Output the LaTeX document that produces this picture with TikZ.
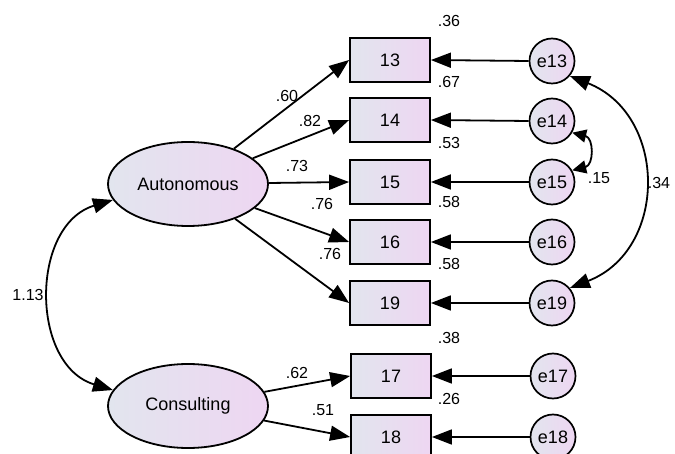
\documentclass[tikz,border=0pt]{standalone}
\usepackage{fontspec}
\setmainfont{Liberation Sans}
\usetikzlibrary{arrows.meta,shapes.geometric}
\definecolor{gl}{RGB}{226,229,238}
\definecolor{gr}{RGB}{238,214,242}
\tikzset{
  grad/.style={left color=gl, right color=gr},
  obs/.style={draw, line width=1.8pt, grad, minimum width=80pt, minimum height=44pt, inner sep=0pt, font=\fontsize{18}{20}\selectfont},
  err/.style={circle, draw, line width=1.7pt, grad, minimum size=45pt, inner sep=0pt, font=\fontsize{18}{20}\selectfont},
  lat/.style={ellipse, draw, line width=1.8pt, grad, minimum width=160pt, minimum height=84pt, inner sep=0pt, font=\fontsize{18}{20}\selectfont},
  lbl/.style={font=\fontsize{16}{18}\selectfont, inner sep=0pt},
  arr/.style={line width=1.8pt, -{Triangle[length=20pt,width=15pt]}},
  dbl/.style={line width=1.8pt, {Triangle[length=20pt,width=15pt]}-{Triangle[length=20pt,width=15pt]}},
  dbls/.style={line width=1.8pt, {Triangle[length=14pt,width=13pt]}-{Triangle[length=14pt,width=13pt]}},
}
\begin{document}
\begin{tikzpicture}[x=1pt,y=-1pt]
\useasboundingbox (0,0) rectangle (675,454);
% latent variables
\node[lat] (auto) at (188,184) {Autonomous};
\node[lat] (cons) at (188,406) {Consulting};
% observed
\node[obs] (b13) at (390,60) {13};
\node[obs] (b14) at (390,120) {14};
\node[obs] (b15) at (390,182) {15};
\node[obs] (b16) at (390,242) {16};
\node[obs] (b19) at (390,303) {19};
\node[obs] (b17) at (391,376) {17};
\node[obs] (b18) at (391,437) {18};
% errors
\node[err] (e13) at (552,61) {e13};
\node[err] (e14) at (552,121) {e14};
\node[err] (e15) at (552,182) {e15};
\node[err] (e16) at (552,242) {e16};
\node[err] (e19) at (552,303) {e19};
\node[err] (e17) at (553,376) {e17};
\node[err] (e18) at (553,437) {e18};
% loadings
\foreach \b in {b13,b14,b15,b16,b19} \draw[arr] (auto) -- (\b.west);
\foreach \b in {b17,b18} \draw[arr] (cons) -- (\b.west);
% error paths
\foreach \n in {13,14,15,16,19,17,18} \draw[arr] (e\n.west) -- (b\n.east);
% covariances
\draw[dbl] (auto.192) .. controls (30,225) and (30,365) .. (cons.168);
\draw[dbl] (e13.-40) .. controls (668,115) and (668,250) .. (e19.40);
\draw[dbls] (e14.-30) .. controls (594,138) and (594,165) .. (e15.30);
% labels
\node[lbl] at (28,295) {1.13};
\node[lbl] at (659,183) {.34};
\node[lbl] at (599,178) {.15};
\node[lbl] at (287,96) {.60};
\node[lbl] at (310,121) {.82};
\node[lbl] at (297,166) {.73};
\node[lbl] at (322,204) {.76};
\node[lbl] at (330,254) {.76};
\node[lbl] at (297,373) {.62};
\node[lbl] at (323,410) {.51};
\node[lbl] at (449,21) {.36};
\node[lbl] at (449,82) {.67};
\node[lbl] at (449,143) {.53};
\node[lbl] at (449,202) {.58};
\node[lbl] at (449,264) {.58};
\node[lbl] at (449,338) {.38};
\node[lbl] at (449,399) {.26};
\end{tikzpicture}
\end{document}
